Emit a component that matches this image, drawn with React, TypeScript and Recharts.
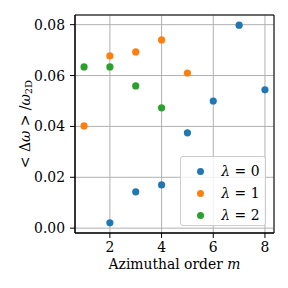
import {
  ScatterChart,
  Scatter,
  XAxis,
  YAxis,
  CartesianGrid,
  ReferenceArea,
} from "recharts"

const mLambda0 = [2, 3, 4, 5, 6, 7, 8]
const dwLambda0 = [0.0021, 0.0143, 0.017, 0.0375, 0.05, 0.0798, 0.0544]

const mLambda1 = [1, 2, 3, 4, 5]
const dwLambda1 = [0.0402, 0.0677, 0.0693, 0.074, 0.061]

const mLambda2 = [1, 2, 3, 4]
const dwLambda2 = [0.0634, 0.0634, 0.0559, 0.0473]

const xTicks = [2, 4, 6, 8]
const yTicks = [0, 0.02, 0.04, 0.06, 0.08]
const seriesNames = ["0", "1", "2"]
const colors = ["#1f77b4", "#ff7f0e", "#2ca02c"]

const xDomain: [number, number] = [0.65, 8.35]
const yDomain: [number, number] = [-0.0019, 0.0838]

const FONT = "'DejaVu Serif', serif"
const FS = 13.9

const toPoints = (xs: number[], ys: number[]) => xs.map((m, i) => ({ m, dw: ys[i] }))

const series = [
  toPoints(mLambda0, dwLambda0),
  toPoints(mLambda1, dwLambda1),
  toPoints(mLambda2, dwLambda2),
]

const dot = (color: string) => (props: any) =>
  <circle cx={props.cx} cy={props.cy} r={3.6} fill={color} />

function XTick({ x, y, payload }: any) {
  return (
    <text x={x} y={y + 1} textAnchor="middle" dominantBaseline="hanging" fontFamily={FONT} fontSize={FS} fill="#000">
      {payload.value}
    </text>
  )
}

function YTick({ x, y, payload }: any) {
  return (
    <text x={x - 1} y={y} textAnchor="end" dominantBaseline="central" fontFamily={FONT} fontSize={FS} fill="#000">
      {Number(payload.value).toFixed(2)}
    </text>
  )
}

function XLabel({ viewBox }: any) {
  const { x, y, width } = viewBox
  return (
    <text x={x + width / 2} y={y + 36} textAnchor="middle" fontFamily={FONT} fontSize={FS} fill="#000">
      Azimuthal order <tspan fontStyle="italic">m</tspan>
    </text>
  )
}

function YLabel() {
  const cx = 25
  const cy = 124
  return (
    <text
      x={cx}
      y={cy}
      transform={`rotate(-90 ${cx} ${cy})`}
      textAnchor="middle"
      dominantBaseline="central"
      fontFamily={FONT}
      fontSize={FS}
      fill="#000"
    >
      <tspan>{"< Δ"}</tspan>
      <tspan fontStyle="italic">ω</tspan>
      <tspan>{" > /"}</tspan>
      <tspan fontStyle="italic">ω</tspan>
      <tspan fontSize={10} dy={3}>2D</tspan>
    </text>
  )
}

function LegendBox() {
  return (
    <div
      style={{
        position: "absolute",
        left: 179.5,
        top: 156,
        width: 86,
        height: 70,
        boxSizing: "border-box",
        border: "1px solid #cccccc",
        borderRadius: 3,
        background: "rgba(255,255,255,0.8)",
        fontFamily: FONT,
        fontSize: FS,
      }}
    >
      {seriesNames.map((name, i) => (
        <div
          key={name}
          style={{
            position: "absolute",
            left: 0,
            top: 3 + i * 22,
            width: 86,
            height: 22,
            display: "flex",
            alignItems: "center",
          }}
        >
          <div
            style={{
              position: "absolute",
              left: 16,
              width: 7,
              height: 7,
              borderRadius: "50%",
              background: colors[i],
            }}
          />
          <span style={{ position: "absolute", right: 7, whiteSpace: "nowrap" }}>
            <i>λ</i> = {name}
          </span>
        </div>
      ))}
    </div>
  )
}

export default function App() {
  return (
    <div
      style={{
        position: "absolute",
        left: 0,
        top: 0,
        width: 288,
        height: 288,
        background: "#fff",
        fontFamily: FONT,
      }}
    >
      <ScatterChart
        width={288}
        height={288}
        margin={{ top: 15, right: 14, bottom: 25, left: 15 }}
      >
        <CartesianGrid stroke="#b0b0b0" strokeWidth={1} />
        <XAxis
          type="number"
          dataKey="m"
          domain={xDomain}
          ticks={xTicks}
          allowDataOverflow
          height={30}
          tickSize={5}
          tickMargin={3}
          stroke="#000"
          tick={<XTick />}
          label={<XLabel />}
        />
        <YAxis
          type="number"
          dataKey="dw"
          domain={yDomain}
          ticks={yTicks}
          allowDataOverflow
          width={60}
          tickSize={5}
          tickMargin={4}
          stroke="#000"
          tick={<YTick />}
          label={<YLabel />}
        />
        <ReferenceArea
          x1={xDomain[0]}
          x2={xDomain[1]}
          y1={yDomain[0]}
          y2={yDomain[1]}
          fill="none"
          stroke="#000"
          strokeWidth={1}
        />
        {series.map((data, i) => (
          <Scatter
            key={seriesNames[i]}
            name={`λ = ${seriesNames[i]}`}
            data={data}
            fill={colors[i]}
            shape={dot(colors[i])}
            isAnimationActive={false}
          />
        ))}
      </ScatterChart>
      <LegendBox />
    </div>
  )
}
